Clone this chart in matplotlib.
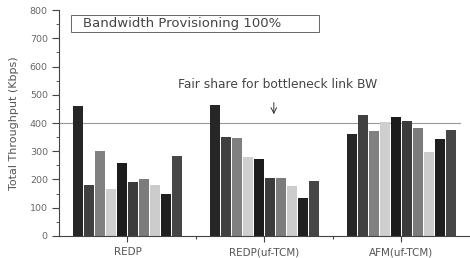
import numpy as np
import matplotlib
matplotlib.use("Agg")
import matplotlib.pyplot as plt
from matplotlib.patches import Rectangle
from matplotlib.ticker import MultipleLocator

groups = ['REDP', 'REDP(uf-TCM)', 'AFM(uf-TCM)']
redp = [460, 180, 301, 166, 257, 192, 200, 181, 150, 282]
redp_tcm = [464, 351, 348, 278, 273, 205, 205, 178, 133, 194]
afm_tcm = [362, 428, 371, 404, 422, 406, 383, 296, 344, 374]
fair_share = 400

colors = ['#262626', '#404040', '#808080', '#cfcfcf', '#1c1c1c',
          '#3c3c3c', '#7c7c7c', '#cccccc', '#1f1f1f', '#464646']

data = np.array([redp, redp_tcm, afm_tcm])
n_bars = data.shape[1]
pitch = 0.0805
width = 0.068

fig = plt.figure(figsize=(4.7, 2.58), dpi=100)
ax = fig.add_axes([0.1255, 0.0853, 0.8745, 0.8759])

x = np.arange(len(groups))
for j in range(n_bars):
    offs = (j - (n_bars - 1) / 2) * pitch
    ax.bar(x + offs, data[:, j], width=width, color=colors[j], edgecolor='none', zorder=2)

ax.axhline(fair_share, xmin=0, xmax=0.976, color='#999999', lw=0.8, zorder=1)

ax.set_xlim(-0.5, 2.5)
ax.set_ylim(0, 800)
ax.set_xticks(x)
ax.set_xticklabels(groups)
ax.set_xticks([0.5, 1.5], minor=True)
ax.yaxis.set_major_locator(MultipleLocator(100))
ax.yaxis.set_minor_locator(MultipleLocator(50))

for s in ['top', 'right']:
    ax.spines[s].set_visible(False)
for s in ['left', 'bottom']:
    ax.spines[s].set_color('#444444')
    ax.spines[s].set_linewidth(0.8)

ax.tick_params(axis='y', which='major', length=5, width=0.8, color='#444444',
               labelsize=6.8, labelcolor='#666666', pad=3)
ax.tick_params(axis='y', which='minor', length=2.5, width=0.6, color='#444444')
ax.tick_params(axis='x', which='major', length=4, width=0.8, color='#444444',
               labelsize=7.5, labelcolor='#555555', pad=4)
ax.tick_params(axis='x', which='minor', length=2, width=0.8, color='#444444')

ax.set_ylabel('Total Throughput (Kbps)', fontsize=8, color='#555555', labelpad=8)

# title box
trans = ax.get_yaxis_transform()
ax.add_patch(Rectangle((0.029, 722), 0.604, 60, transform=trans, fill=False,
                       ec='#666666', lw=0.7, clip_on=False))
ax.text(0.058, 751, 'Bandwidth Provisioning 100%', fontsize=9.5, color='#444444',
        va='center', ha='left', transform=trans)

ax.text(1.097, 538, 'Fair share for bottleneck link BW', fontsize=8.8,
        color='#444444', va='center', ha='center')
ax.annotate('', xy=(1.068, 421), xytext=(1.068, 482),
            arrowprops=dict(arrowstyle='->', color='#333333', lw=0.7))

fig.savefig('out.png', dpi=100)
